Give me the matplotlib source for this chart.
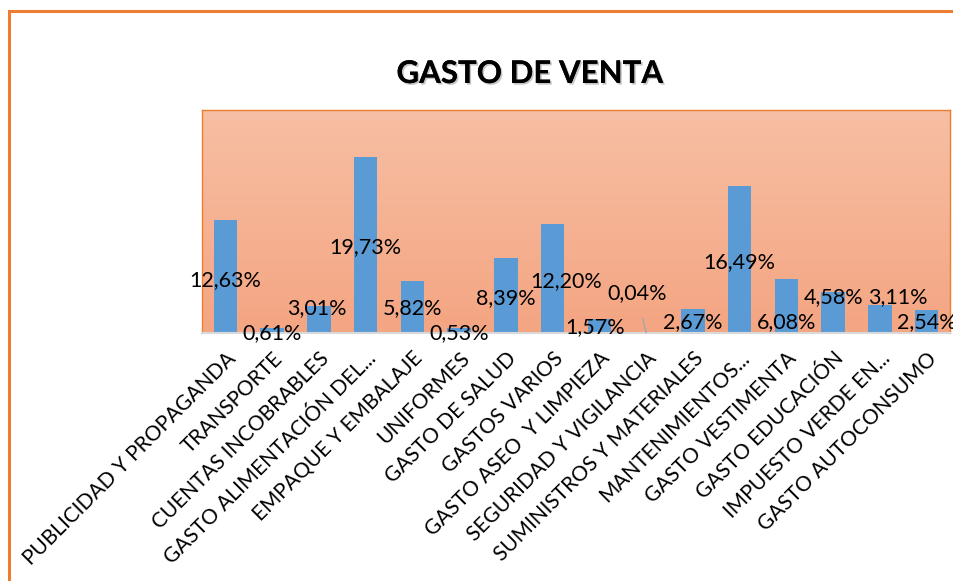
import numpy as np
import matplotlib.pyplot as plt
import matplotlib.patheffects as pe
from matplotlib.patches import Rectangle
from matplotlib.colors import LinearSegmentedColormap

plt.rcParams['font.family'] = ['Lato', 'DejaVu Sans']

categorias = [
    "PUBLICIDAD Y PROPAGANDA", "TRANSPORTE", "CUENTAS INCOBRABLES",
    "GASTO ALIMENTACIÓN DEL...", "EMPAQUE Y EMBALAJE", "UNIFORMES",
    "GASTO DE SALUD", "GASTOS VARIOS", "GASTO ASEO  Y LIMPIEZA",
    "SEGURIDAD Y VIGILANCIA", "SUMINISTROS Y MATERIALES", "MANTENIMIENTOS...",
    "GASTO VESTIMENTA", "GASTO EDUCACIÓN", "IMPUESTO VERDE EN...",
    "GASTO AUTOCONSUMO",
]
porcentajes = [12.63, 0.61, 3.01, 19.73, 5.82, 0.53, 8.39, 12.20, 1.57,
               0.04, 2.67, 16.49, 6.08, 4.58, 3.11, 2.54]

# posicion de las etiquetas (desplazamiento en x, altura en y) como en el original
etiqueta_dx = [0, 0, -0.05, 0, 0, 0, 0, 0.3, -0.1, -0.2, 0, 0, 0, 0, 0.39, 0]
etiqueta_y = [5.94, 0.0, 2.8, 9.64, 2.8, 0.0, 3.92, 5.83, 0.67, 4.48,
              1.23, 7.96, 1.23, 4.04, 4.04, 1.23]

naranja = "#ED7D31"
azul = "#5B9BD5"

fig = plt.figure(figsize=(9.54, 5.81), dpi=100)
ax = fig.add_axes([202 / 954, 1 - 333 / 581, 748 / 954, 223 / 581])

# borde del grafico
fig.patches.append(Rectangle((9 / 954, -0.1), 1.2, 1 - 11 / 581 + 0.1,
                             transform=fig.transFigure, fill=False,
                             edgecolor=naranja, linewidth=2.2))

# fondo degradado del area de trazado
cmap = LinearSegmentedColormap.from_list("fondo", ["#F7BFA4", "#F4A582"])
grad = np.linspace(0, 1, 256).reshape(-1, 1)
ax.imshow(grad, cmap=cmap, aspect="auto", extent=[0, 1, 0, 1],
          transform=ax.transAxes, zorder=0)

x = np.arange(len(categorias))
ax.bar(x, porcentajes, width=0.5, color=azul, zorder=2)
ax.set_xlim(-0.5, len(categorias) - 0.5)
ax.set_ylim(0, 25)

for i, v in enumerate(porcentajes):
    texto = f"{v:.2f}%".replace(".", ",")
    if i == 9:
        ax.annotate(texto, xy=(i, v), xytext=(i + etiqueta_dx[i], etiqueta_y[i]),
                    ha="center", va="center", fontsize=15.5, zorder=3,
                    arrowprops=dict(arrowstyle="-", color="#A6A6A6", lw=1,
                                    shrinkA=9, shrinkB=0))
    else:
        ax.text(i + etiqueta_dx[i], etiqueta_y[i], texto, ha="center",
                va="center", fontsize=15.5, zorder=3)

ax.set_xticks(x)
ax.set_xticklabels(categorias, rotation=45, ha="right", rotation_mode="anchor",
                   fontsize=15)
ax.tick_params(axis="x", length=0, pad=11)
ax.set_yticks([])

for lado in ["left", "top", "right"]:
    ax.spines[lado].set_color(naranja)
    ax.spines[lado].set_linewidth(1)
ax.spines["bottom"].set_color("#D9D9D9")
ax.spines["bottom"].set_linewidth(1.5)

titulo = fig.text(530 / 954, 1 - 74 / 581, "GASTO DE VENTA", ha="center",
                  va="center", fontsize=22.5, fontweight="bold")
titulo.set_path_effects([pe.withSimplePatchShadow(offset=(1.2, -1.2),
                                                  shadow_rgbFace="#808080",
                                                  alpha=0.45),
                         pe.Normal()])

fig.savefig("out.png", dpi=100)
